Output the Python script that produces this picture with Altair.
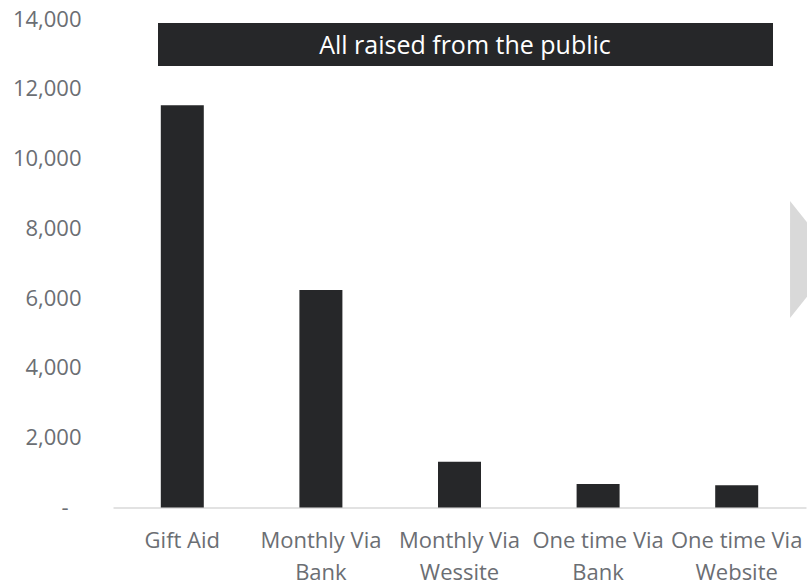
import altair as alt
import pandas as pd

categories = ["Gift Aid", "Monthly Via Bank", "Monthly Via Wessite",
              "One time Via Bank", "One time Via Website"]
values = [11530, 6230, 1310, 670, 640]
y_ticks = [0, 2000, 4000, 6000, 8000, 10000, 12000, 14000]
banner_text = "All raised from the public"

df = pd.DataFrame({"category": categories, "value": values})
ann = pd.DataFrame({"label": [banner_text]})

FONT = "Open Sans"
LABEL_COLOR = "#6b6e73"

bars = alt.Chart(df).mark_bar(color="#262729", size=43).encode(
    x=alt.X("category:N", sort=categories, title=None,
            scale=alt.Scale(paddingInner=0.69, paddingOuter=0.345),
            axis=alt.Axis(
                labelAngle=0, ticks=False, labelPadding=23,
                labelFont=FONT, labelFontSize=22, labelColor=LABEL_COLOR,
                labelLimit=400, labelOverlap=False, labelLineHeight=32,
                labelExpr="split(replace(datum.label, ' Via ', ' Via|'), '|')",
                domainColor="#d9d9d9", domainWidth=1.5, grid=False)),
    y=alt.Y("value:Q", title=None,
            scale=alt.Scale(domain=[0, 14000], nice=False),
            axis=alt.Axis(
                values=y_ticks, ticks=False, domain=False, grid=False,
                labelFont=FONT, labelFontSize=22, labelColor=LABEL_COLOR,
                labelPadding={"condition": {"test": "datum.value == 0", "value": 45}, "value": 32},
                labelExpr="datum.value == 0 ? '-' : format(datum.value, ',')")),
)

banner = alt.Chart(ann).mark_rect(color="#262729").encode(
    x=alt.value(45), x2=alt.value(660), y=alt.value(4), y2=alt.value(47))

banner_txt = alt.Chart(ann).mark_text(
    color="white", font=FONT, fontSize=25, align="center", baseline="middle"
).encode(x=alt.value(352), y=alt.value(26.5), text="label:N")

chevron = alt.Chart(ann).mark_point(
    shape="M-0.29,-1 L0.51,0 L-0.29,1 Z", filled=True, opacity=1,
    color="#d9d9d9", strokeWidth=0, size=13689
).encode(x=alt.value(694), y=alt.value(240.5))

chart = alt.layer(bars, banner, banner_txt, chevron).properties(
    width=693, height=488.5,
    autosize=alt.AutoSizeParams(type="none"),
    padding={"left": 113, "top": 19, "right": 1, "bottom": 80},
    background="white",
).configure_view(stroke=None)

chart.save("out.html", embed_options={"renderer": "svg", "actions": False})
